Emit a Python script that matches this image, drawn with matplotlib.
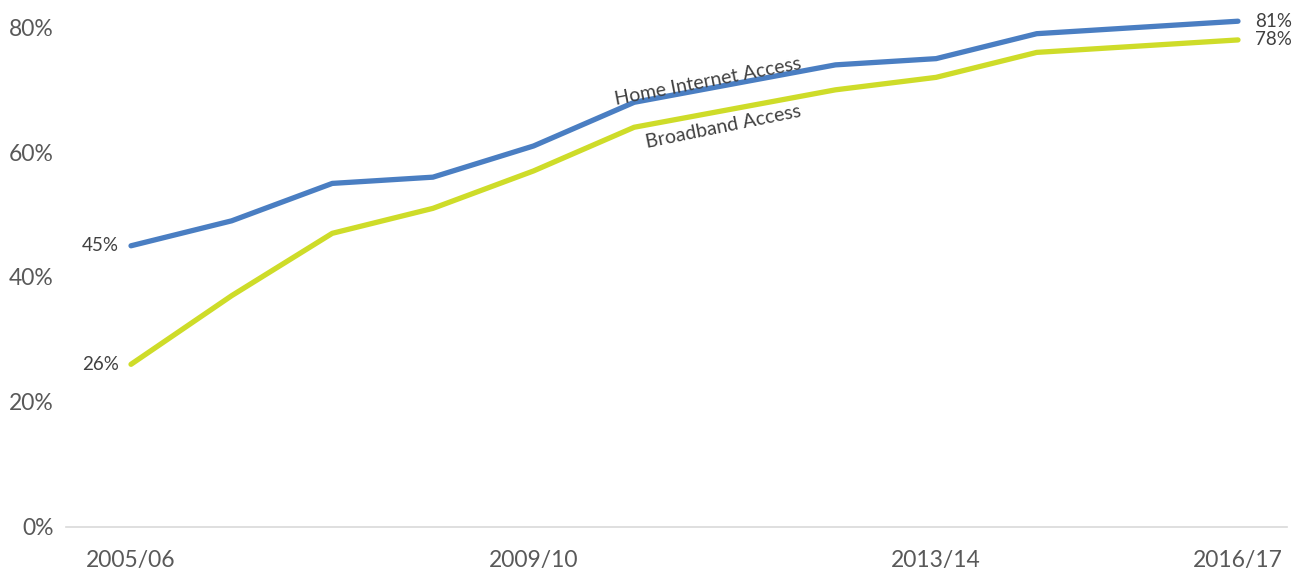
import matplotlib
matplotlib.use("Agg")
import matplotlib.pyplot as plt

plt.rcParams['font.family'] = ['Lato', 'DejaVu Sans']

years = ['2005/06', '2006/07', '2007/08', '2008/09', '2009/10', '2010/11',
         '2011/12', '2012/13', '2013/14', '2014/15', '2015/16', '2016/17']
home_internet = [45, 49, 55, 56, 61, 68, 71, 74, 75, 79, 80, 81]
broadband = [26, 37, 47, 51, 57, 64, 67, 70, 72, 76, 77, 78]
shown_ticks = ['2005/06', '2009/10', '2013/14', '2016/17']

blue = '#4A7EC2'
green = '#CEDC29'

fig = plt.figure(figsize=(12.95, 5.7), dpi=100)
ax = fig.add_axes([66 / 1295, 43.5 / 570, (1287 - 66) / 1295, 526.5 / 570])

x = list(range(len(years)))
ax.plot(x, broadband, color=green, lw=3.8, solid_capstyle='round',
        solid_joinstyle='round', clip_on=False)
ax.plot(x, home_internet, color=blue, lw=3.8, solid_capstyle='round',
        solid_joinstyle='round', clip_on=False)

ax.set_xlim(-0.646, 11.487)
ax.set_ylim(0, 84.4)

# end labels
lab_kw = dict(fontsize=13.5, color='#404040', va='center')
ax.text(-0.12, home_internet[0], '%d%%' % home_internet[0], ha='right', **lab_kw)
ax.text(-0.12, broadband[0], '%d%%' % broadband[0], ha='right', **lab_kw)
ax.text(11.17, home_internet[-1], '%d%%' % home_internet[-1], ha='left', **lab_kw)
ax.text(11.17, broadband[-1], '%d%%' % broadband[-1], ha='left', **lab_kw)

# series names along the lines
ax.text(5.73, 71.4, 'Home Internet Access', rotation=11, rotation_mode='anchor',
        ha='center', va='center', fontsize=14, color='#404040')
ax.text(5.89, 64.0, 'Broadband Access', rotation=11.5, rotation_mode='anchor',
        ha='center', va='center', fontsize=14, color='#404040')

ax.set_yticks([0, 20, 40, 60, 80])
ax.set_yticklabels(['0%', '20%', '40%', '60%', '80%'])
ax.set_xticks([years.index(t) for t in shown_ticks])
ax.set_xticklabels(shown_ticks)
ax.tick_params(axis='both', length=0, labelsize=16.5, labelcolor='#595959')
ax.tick_params(axis='y', pad=9)
ax.tick_params(axis='x', pad=17)

for s in ['top', 'right', 'left']:
    ax.spines[s].set_visible(False)
ax.spines['bottom'].set_color('#D9D9D9')
ax.spines['bottom'].set_linewidth(1.2)

fig.savefig('out.png', dpi=100)
